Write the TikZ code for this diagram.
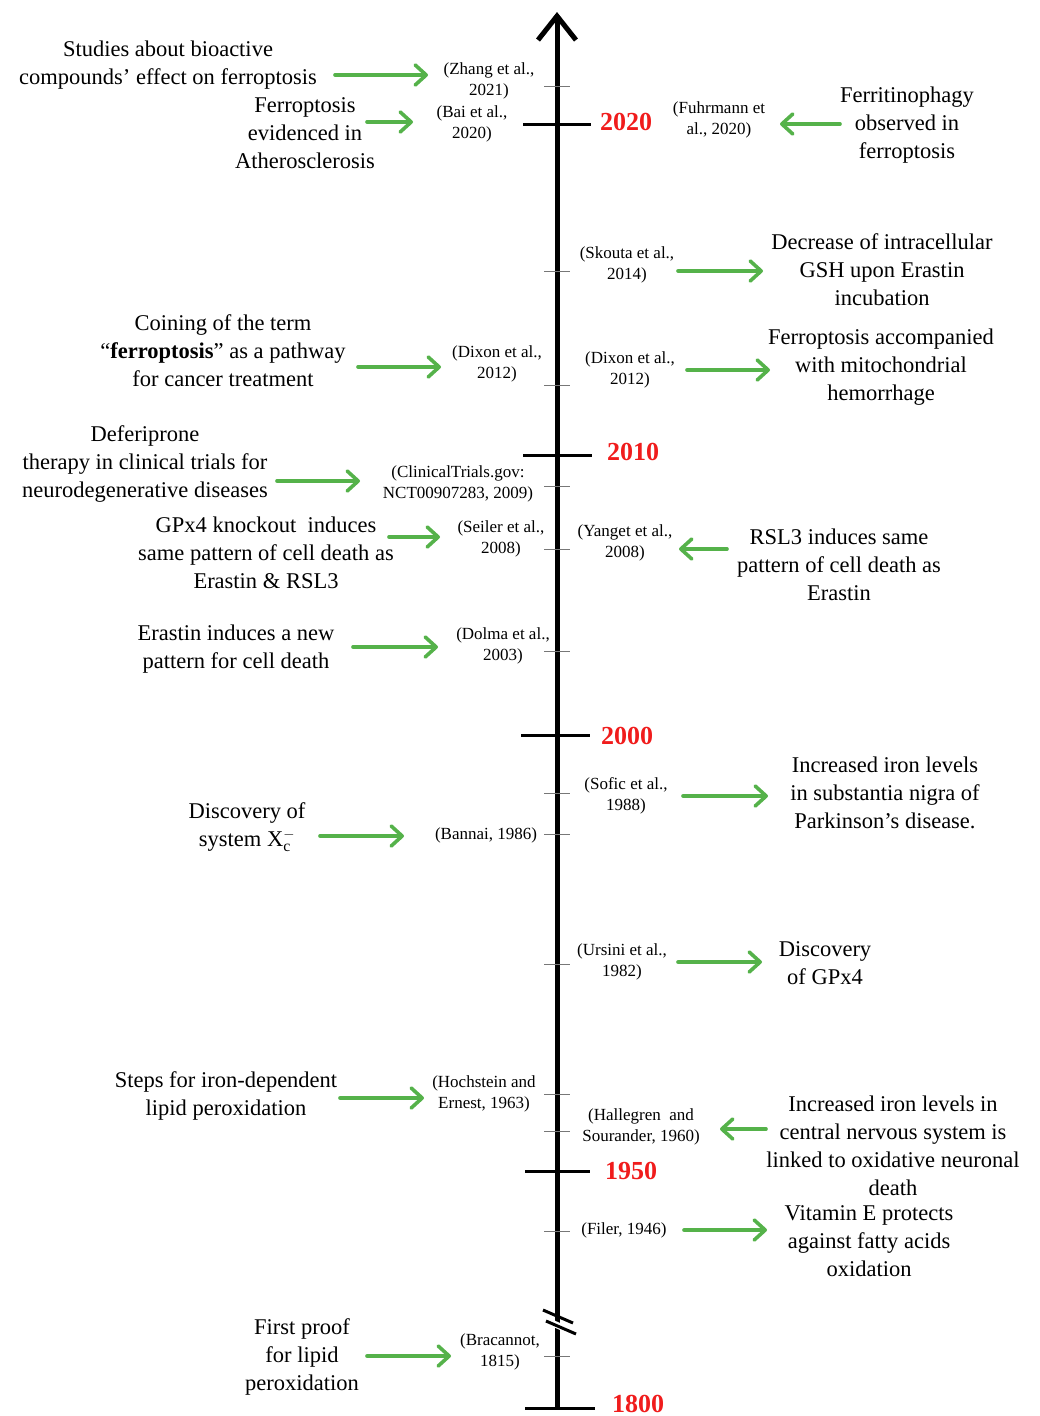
\documentclass[tikz,border=0pt]{standalone}
\usepackage{fontspec}
\setmainfont{Liberation Serif}
\usepackage{tikz}
\usetikzlibrary{arrows.meta,positioning}
\definecolor{ArrowGreen}{HTML}{55B24A}
\definecolor{YearRed}{HTML}{F01C1C}
\definecolor{TickGray}{HTML}{777777}
\tikzset{
  eventtext/.style={align=center,inner sep=1pt,font=\fontsize{22.5}{28}\selectfont},
  citetext/.style={align=center,inner sep=1pt,font=\fontsize{17}{21}\selectfont},
  yearlabel/.style={inner sep=1pt,text=YearRed,font=\fontsize{26}{30}\selectfont\bfseries},
  greenarrow/.style={-{Straight Barb[length=11pt,width=20pt,round]},line width=3.6pt,draw=ArrowGreen,line cap=round},
  majortick/.style={line width=3pt,draw=black},
  minortick/.style={line width=1pt,draw=TickGray}
}
\begin{document}
\begin{tikzpicture}[x=1pt,y=-1pt]
\useasboundingbox (0,0) rectangle (1040,1416);
% time axis
\coordinate (axbot) at (557,1408);
\coordinate (axtop) at (557,12);
\draw[line width=5pt,-{Straight Barb[length=24pt,width=38pt]}] (axbot) -- (axtop);
% axis break
\fill[white] (542,1315) -- (576,1330) -- (576,1337) -- (542,1322) -- cycle;
\draw[line width=3pt] (543,1310) -- (573,1323);
\draw[line width=3pt] (546,1321) -- (576,1334);
% major ticks and years
\foreach \y/\xa/\xb/\yr/\lx/\ly in {124/523/591/2020/626/122, 455/523/592/2010/633/452, 735/521/590/2000/627/736, 1171/525/590/1950/631/1171, 1408/525/595/1800/638/1404}{
  \draw[majortick] (\xa,\y) -- (\xb,\y);
  \node[yearlabel] (yr\yr) at (\lx,\ly) {\yr};
}
% minor ticks
\foreach \y in {86,271,385,486,549,651,793,834,964,1094,1131,1231,1356}{
  \draw[minortick] (544,\y) -- (570,\y);
}
% left side events
\node[eventtext] (ev1) at (168,65) {Studies about bioactive\\compounds' effect on ferroptosis};
\node[citetext] (ct1) at (489,81) {(Zhang et al.,\\2021)};
\node[eventtext] (ev2) at (305,133) {Ferroptosis\\evidenced in\\Atherosclerosis};
\node[citetext] (ct2) at (472,124) {(Bai et al.,\\2020)};
\node[eventtext] (ev3) at (223,351) {Coining of the term\\``\textbf{ferroptosis}'' as a pathway\\for cancer treatment};
\node[citetext] (ct3) at (497,364) {(Dixon et al.,\\2012)};
\node[eventtext] (ev4) at (145,464) {Deferiprone\\therapy in clinical trials for\\neurodegenerative diseases};
\node[citetext] (ct4) at (458,484) {(ClinicalTrials.gov:\\NCT00907283, 2009)};
\node[eventtext] (ev5) at (266,553) {GPx4 knockout\ \ induces\\same pattern of cell death as\\Erastin \& RSL3};
\node[citetext] (ct5) at (501,539) {(Seiler et al.,\\2008)};
\node[eventtext] (ev6) at (236,649) {Erastin induces a new\\pattern for cell death};
\node[citetext] (ct6) at (503,646) {(Dolma et al.,\\2003)};
\node[eventtext] (ev7) at (247,827) {Discovery of\\system X$_{\mathrm{c}}^{-}$};
\node[citetext] (ct7) at (486,835) {(Bannai, 1986)};
\node[eventtext] (ev8) at (226,1096) {Steps for iron-dependent\\lipid peroxidation};
\node[citetext] (ct8) at (484,1094) {(Hochstein and\\Ernest, 1963)};
\node[eventtext] (ev9) at (302,1357) {First proof\\for lipid\\peroxidation};
\node[citetext] (ct9) at (500,1352) {(Bracannot,\\1815)};
% right side events
\node[citetext] (cr1) at (719,120) {(Fuhrmann et\\al., 2020)};
\node[eventtext] (er1) at (907,125) {Ferritinophagy\\observed in\\ferroptosis};
\node[citetext] (cr2) at (627,265) {(Skouta et al.,\\2014)};
\node[eventtext] (er2) at (882,270) {Decrease of intracellular\\GSH upon Erastin\\incubation};
\node[citetext] (cr3) at (630,370) {(Dixon et al.,\\2012)};
\node[eventtext] (er3) at (881,367) {Ferroptosis accompanied\\with mitochondrial\\hemorrhage};
\node[citetext] (cr4) at (625,543) {(Yanget et al.,\\2008)};
\node[eventtext] (er4) at (839,565) {RSL3 induces same\\pattern of cell death as\\Erastin};
\node[citetext] (cr5) at (626,796) {(Sofic et al.,\\1988)};
\node[eventtext] (er5) at (885,793) {Increased iron levels\\in substantia nigra of\\Parkinson's disease.};
\node[citetext] (cr6) at (622,962) {(Ursini et al.,\\1982)};
\node[eventtext] (er6) at (825,963) {Discovery\\of GPx4};
\node[citetext] (cr7) at (641,1127) {(Hallegren\ \ and\\Sourander, 1960)};
\node[eventtext] (er7) at (893,1146) {Increased iron levels in\\central nervous system is\\linked to oxidative neuronal\\death};
\node[citetext] (cr8) at (624,1230) {(Filer, 1946)};
\node[eventtext] (er8) at (869,1241) {Vitamin E protects\\against fatty acids\\oxidation};
% arrow end points
\foreach \n/\xa/\xb/\y in {l1/335/428/75, l2/367/413/122, l3/358/441/367, l4/277/360/481, l5/389/440/537, l6/353/438/647, l7/320/404/836, l8/340/424/1098, l9/367/451/1356, r2/678/763/271, r3/687/770/370, r5/683/768/796, r6/678/762/962, r8/684/767/1230}{
  \coordinate (\n s) at (\xa,\y);
  \coordinate (\n e) at (\xb,\y);
  \draw[greenarrow] (\n s) -- (\n e);
}
\foreach \n/\xa/\xb/\y in {r1/840/780/124, r4/727/679/549, r7/766/720/1129}{
  \coordinate (\n s) at (\xa,\y);
  \coordinate (\n e) at (\xb,\y);
  \draw[greenarrow] (\n s) -- (\n e);
}
\end{tikzpicture}
\end{document}
